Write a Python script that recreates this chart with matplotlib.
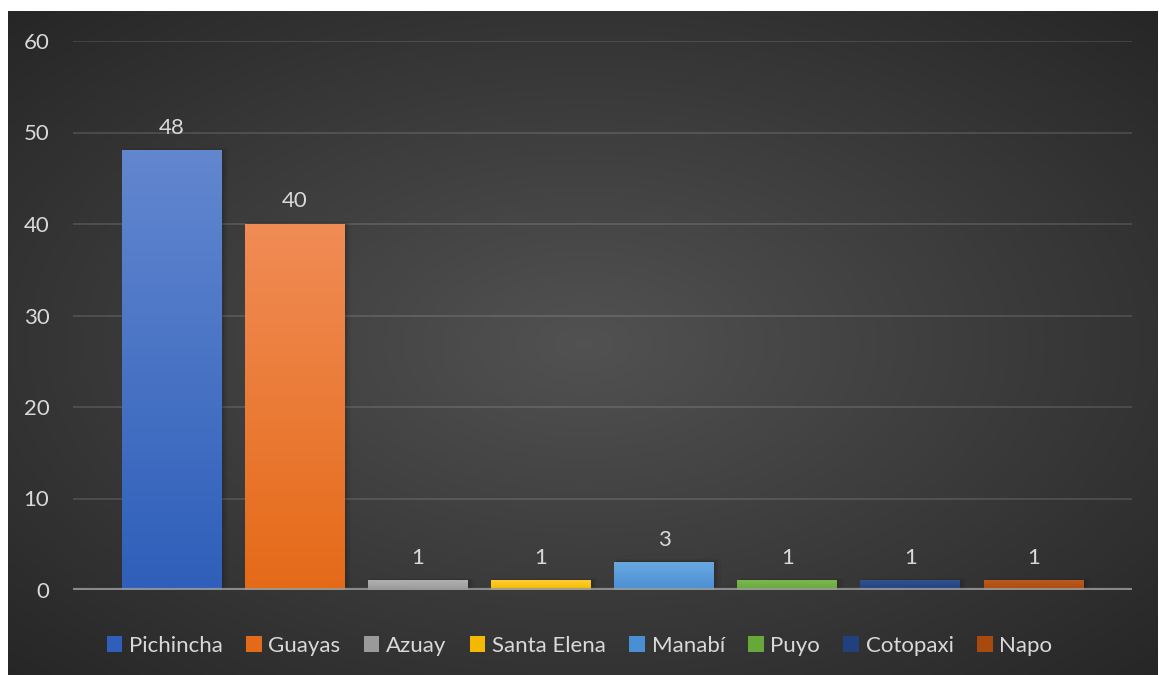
import numpy as np
import matplotlib
matplotlib.use("Agg")
import matplotlib.pyplot as plt
from matplotlib.colors import to_rgb
from matplotlib.patches import Rectangle

provinces = ["Pichincha", "Guayas", "Azuay", "Santa Elena", "Manabí", "Puyo", "Cotopaxi", "Napo"]
counts = [48, 40, 1, 1, 3, 1, 1, 1]
top_colors = ["#6287cf", "#f08c55", "#b0b0b0", "#ffcf30", "#6aa8e0", "#7bb84f", "#34508f", "#bd5a1e"]
bottom_colors = ["#2f5fba", "#e56a18", "#9a9a9a", "#f5b800", "#4a8fd4", "#66a83a", "#21407e", "#a84a0e"]
y_ticks = [0, 10, 20, 30, 40, 50, 60]

plt.rcParams['font.family'] = ['Lato', 'DejaVu Sans']
text_col = "#d9d9d9"

fig = plt.figure(figsize=(11.59, 6.75), dpi=100)
fig.patch.set_facecolor("white")

# dark panel with radial gradient
W, H = 1159, 675
bg = fig.add_axes([8 / W, 0, 1150 / W, 664 / H])
yy, xx = np.mgrid[0:300, 0:500]
cx, cy = 250, 150
r = np.sqrt(((xx - cx) / 250.0) ** 2 + ((yy - cy) / 150.0) ** 2) / np.sqrt(2)
v = 0.32 - 0.17 * np.clip(r, 0, 1)
img = np.dstack([v, v, v])
bg.imshow(img, aspect="auto", extent=[0, 1, 0, 1], interpolation="bilinear")
bg.set_axis_off()

ax = fig.add_axes([73 / W, 1 - 590 / H, (1132 - 73) / W, (590 - 41) / H])
ax.set_facecolor("none")
ax.set_xlim(-0.8, 7.8)
ax.set_ylim(0, 60)
ax.set_yticks(y_ticks)
ax.set_xticks([])
for s in ax.spines.values():
    s.set_visible(False)
ax.tick_params(axis="y", length=0, pad=17, labelsize=16, labelcolor=text_col)
for t in y_ticks[1:]:
    ax.axhline(t, color="#ffffff", alpha=0.12, lw=1.5, zorder=1)

width = 0.81
x = np.arange(len(provinces))
for i, (val, c1, c2) in enumerate(zip(counts, top_colors, bottom_colors)):
    # soft shadow
    for k, al in enumerate([0.09, 0.06, 0.04]):
        d = 0.012 * (k + 1)
        ax.add_patch(Rectangle((x[i] - width / 2 + d * 0.5, 0), width + d, val + 0.12 * (k + 1),
                               color="black", alpha=al, lw=0, zorder=2))
    a, b = np.array(to_rgb(c1)), np.array(to_rgb(c2))
    grad = np.linspace(0, 1, 100)[:, None]
    cols = a[None, :] * (1 - grad) + b[None, :] * grad
    ax.imshow(cols[:, None, :], aspect="auto", zorder=3,
              extent=[x[i] - width / 2, x[i] + width / 2, 0, val], interpolation="bilinear")
    ax.text(x[i], val + 1.4, str(val), ha="center", va="bottom", fontsize=16, color=text_col, zorder=4)

ax.set_xlim(-0.8, 7.8)
ax.set_ylim(0, 60)
ax.axhline(0, color="#9a9a9a", lw=3, zorder=5, alpha=0.85)

handles = [Rectangle((0, 0), 1, 1, facecolor=c) for c in bottom_colors]
leg = fig.legend(handles, provinces, loc="center", bbox_to_anchor=(0.5, 1 - 646 / H), ncol=8,
                 frameon=False, fontsize=16, handlelength=0.7, handleheight=0.7,
                 handletextpad=0.3, columnspacing=1.05)
for t in leg.get_texts():
    t.set_color(text_col)

fig.savefig("out.png", dpi=100)
